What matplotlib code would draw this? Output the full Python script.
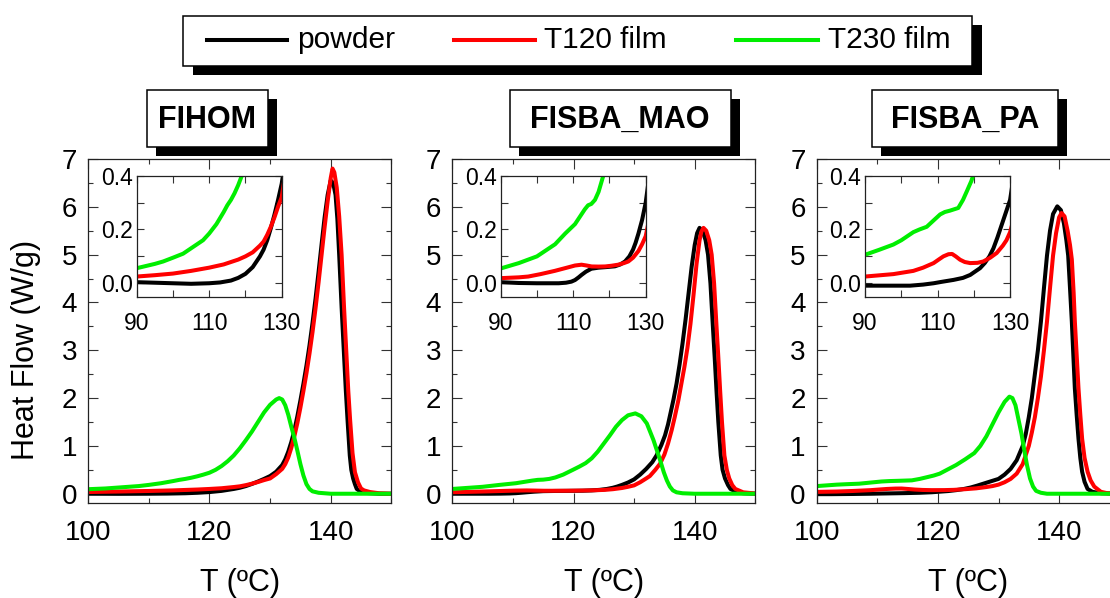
import matplotlib
matplotlib.use("Agg")
import matplotlib.pyplot as plt
from matplotlib.patches import Rectangle
from matplotlib.lines import Line2D
from matplotlib.ticker import MultipleLocator

plt.rcParams['font.family'] = ['Liberation Sans', 'DejaVu Sans']

# ---------------- data ----------------
panel_titles = ["FIHOM", "FISBA_MAO", "FISBA_PA"]
series_names = ["powder", "T120 film", "T230 film"]
series_colors = ["#000000", "#ff0000", "#00ee00"]

# FIHOM
fihom_powder_T = [90, 95, 100, 105, 110, 113, 116, 118, 120, 122, 123, 124, 125, 126, 127, 128, 129, 130, 131, 132,
                  132.5, 133, 133.5, 134, 134.5, 135, 135.5, 136, 136.5, 137, 137.5, 138, 138.5, 139, 139.5, 140,
                  140.4, 140.8, 141.1, 141.4, 141.8, 142.2, 142.5, 142.8, 143.15, 143.4, 143.7, 144, 144.3, 145, 146,
                  148, 150]
fihom_powder = [0.004, 0.002, 0.0, -0.002, 0.0, 0.003, 0.01, 0.02, 0.035, 0.06, 0.08, 0.1, 0.125, 0.16, 0.205, 0.255,
                0.31, 0.37, 0.46, 0.6, 0.72, 0.88, 1.08, 1.32, 1.62, 1.95, 2.3, 2.68, 3.1, 3.57, 4.08, 4.64, 5.22,
                5.78, 6.25, 6.55, 6.5, 6.25, 5.75, 5.0, 3.9, 2.9, 2.15, 1.5, 0.8, 0.5, 0.32, 0.2, 0.1, 0.04, 0.015,
                0.0, 0.0]
fihom_t120_T = [90, 95, 100, 105, 110, 114, 118, 120, 122, 124, 125, 126, 127, 128, 129, 130, 131, 132, 132.5, 133,
                133.5, 134, 134.5, 135, 135.5, 136, 136.5, 137, 137.5, 138, 138.5, 139, 139.5, 140, 140.3, 140.6, 141,
                141.4, 141.8, 142.2, 142.6, 142.9, 143.2, 143.6, 144, 144.5, 145, 145.5, 146.5, 148, 150]
fihom_t120 = [0.025, 0.03, 0.036, 0.046, 0.058, 0.07, 0.088, 0.1, 0.115, 0.14, 0.155, 0.18, 0.21, 0.245, 0.285, 0.32,
              0.41, 0.52, 0.62, 0.76, 0.96, 1.2, 1.48, 1.8, 2.15, 2.52, 2.93, 3.38, 3.88, 4.42, 5.0, 5.58, 6.12, 6.6,
              6.8, 6.72, 6.4, 5.8, 5.0, 3.9, 2.9, 2.15, 1.55, 0.85, 0.45, 0.24, 0.11, 0.07, 0.035, 0.01, 0.0]
fihom_t230_T = [90, 95, 97.3, 100, 102.8, 105, 108.3, 110, 112, 114, 115, 116, 117, 118, 119, 120, 121, 122, 123, 124,
                125, 126, 127, 128, 129, 130, 131, 131.5, 132, 132.5, 133, 133.5, 134, 134.5, 135, 135.5, 136, 136.5,
                137, 138, 140, 145, 150]
fihom_t230 = [0.056, 0.072, 0.081, 0.095, 0.11, 0.13, 0.16, 0.185, 0.22, 0.265, 0.29, 0.31, 0.335, 0.365, 0.40, 0.44,
              0.5, 0.58, 0.68, 0.8, 0.95, 1.12, 1.3, 1.5, 1.7, 1.86, 1.97, 2.0, 1.97, 1.85, 1.65, 1.4, 1.17, 0.9,
              0.62, 0.38, 0.2, 0.1, 0.05, 0.02, 0.0, 0.0, 0.0]

# FISBA_MAO
mao_powder_T = [90, 95, 100, 106, 108, 109.5, 110.5, 111.5, 112.3, 113.5, 115, 117, 119, 121.5, 123, 124.3, 125.5,
                126.5, 127.2, 128, 129, 130, 131, 132, 133, 133.7, 134.5, 135.1, 135.6, 136, 136.5, 137, 137.5, 138,
                138.5, 139, 139.5, 140, 140.4, 140.8, 141.3, 141.8, 142.2, 142.6, 143, 143.3, 143.6, 143.9, 144.3,
                144.6, 145, 145.5, 145.9, 147, 148, 150]
mao_powder = [0.004, 0.001, 0.0, 0.0, 0.002, 0.006, 0.012, 0.022, 0.031, 0.043, 0.054, 0.058, 0.06, 0.063, 0.07,
              0.081, 0.1, 0.125, 0.15, 0.185, 0.235, 0.3, 0.4, 0.52, 0.66, 0.8, 1.02, 1.22, 1.45, 1.68, 1.97, 2.3, 2.7,
              3.15, 3.65, 4.2, 4.75, 5.2, 5.45, 5.56, 5.5, 5.3, 5.0, 4.4, 3.5, 2.85, 2.15, 1.5, 0.8, 0.5, 0.32, 0.18,
              0.1, 0.03, 0.01, 0.0]
mao_t120_T = [90, 95, 97.6, 101, 104.9, 108, 110.5, 112.3, 113.7, 115.1, 117, 118.8, 120.5, 122.4, 124, 125.2, 126.5,
              128, 129, 130, 131, 132, 132.6, 133.5, 134.3, 135, 135.6, 136.2, 136.7, 137.3, 137.8, 138.3, 138.8,
              139.3, 139.8, 140.3, 140.8, 141.1, 141.45, 141.9, 142.4, 142.8, 143.2, 143.6, 143.9, 144.2, 144.5,
              144.9, 145.3, 145.7, 146.2, 146.7, 148, 150]
mao_t120 = [0.019, 0.022, 0.025, 0.034, 0.046, 0.057, 0.066, 0.069, 0.066, 0.0625, 0.062, 0.0625, 0.065, 0.069,
            0.075, 0.081, 0.095, 0.12, 0.145, 0.175, 0.24, 0.32, 0.37, 0.5, 0.63, 0.82, 1.05, 1.33, 1.6, 1.95, 2.3,
            2.65, 3.05, 3.55, 4.15, 4.8, 5.3, 5.48, 5.56, 5.5, 5.3, 5.0, 4.4, 3.5, 2.85, 2.15, 1.5, 0.8, 0.5, 0.32,
            0.18, 0.1, 0.03, 0.005]
mao_t230_T = [90, 95, 97.6, 100, 105, 107.8, 110.5, 113.2, 114.1, 115, 116, 117, 118.3, 119.9, 121, 122, 123, 124,
              125, 126, 127, 128, 129, 130.2, 131.2, 132.1, 133.2, 134.3, 134.9, 135.4, 135.9, 136.4, 137, 138, 140,
              150]
mao_t230 = [0.055, 0.075, 0.088, 0.10, 0.145, 0.185, 0.22, 0.275, 0.29, 0.295, 0.31, 0.34, 0.40, 0.5, 0.57, 0.64,
            0.74, 0.88, 1.05, 1.22, 1.4, 1.54, 1.64, 1.68, 1.62, 1.47, 1.12, 0.70, 0.45, 0.28, 0.15, 0.07, 0.03,
            0.01, 0.0, 0.0]

# FISBA_PA
pa_powder_T = [90, 95, 102.4, 106, 108.9, 111, 114.4, 117, 119, 120.5, 121.7, 123, 124.3, 125.4, 126.5, 127.5, 128.5,
               130, 131, 132, 133, 134, 134.5, 135, 135.5, 136, 136.5, 137, 137.5, 138, 138.5, 139, 139.7, 140.3,
               140.8, 141.2, 141.5, 141.8, 142.1, 142.35, 142.6, 142.9, 143.2, 143.5, 143.8, 144.2, 144.7, 145.5,
               147, 150]
pa_powder = [-0.009, -0.009, -0.009, -0.005, 0.0, 0.005, 0.0125, 0.02, 0.031, 0.045, 0.056, 0.075, 0.1, 0.13, 0.17,
             0.21, 0.25, 0.31, 0.4, 0.52, 0.7, 1.0, 1.25, 1.6, 2.0, 2.5, 3.0, 3.6, 4.3, 4.98, 5.5, 5.85, 6.01, 5.93,
             5.65, 5.3, 4.98, 4.3, 3.6, 2.9, 2.2, 1.65, 1.15, 0.75, 0.46, 0.25, 0.1, 0.04, 0.01, 0.0]
pa_t120_T = [90, 97.8, 103.3, 106, 108.9, 110.5, 111.6, 113, 114, 115, 116.2, 117.5, 119, 121, 122.6, 124.5, 126.3,
             128, 129, 130, 131, 132, 133, 134, 135, 135.5, 136, 136.5, 137, 137.5, 138, 138.5, 139, 139.5, 140,
             140.4, 140.9, 141.4, 141.8, 142.1, 142.4, 142.6, 142.9, 143.2, 143.5, 143.8, 144.2, 144.7, 145.2,
             145.8, 146.9, 148, 150]
pa_t120 = [0.025, 0.034, 0.046, 0.058, 0.075, 0.09, 0.1, 0.108, 0.109, 0.1, 0.0875, 0.079, 0.075, 0.076, 0.081,
           0.095, 0.1125, 0.14, 0.16, 0.19, 0.24, 0.31, 0.42, 0.62, 1.0, 1.28, 1.6, 2.0, 2.45, 3.0, 3.6, 4.3, 4.98,
           5.45, 5.78, 5.87, 5.8, 5.5, 5.2, 4.9, 4.2, 3.6, 2.9, 2.2, 1.65, 1.15, 0.75, 0.46, 0.28, 0.15, 0.04, 0.01,
           0.0]
pa_t230_T = [90, 94, 97.8, 100, 103.3, 105, 107, 109, 110.7, 112, 113.4, 115.7, 117, 118, 119.3, 120.3, 121.5, 123,
             124.5, 126, 127, 128, 129, 130, 131, 131.8, 132.3, 132.8, 133.3, 133.8, 134.2, 134.7, 135.2, 135.7,
             136.2, 137, 138, 150]
pa_t230 = [0.106, 0.125, 0.144, 0.16, 0.19, 0.2, 0.21, 0.235, 0.256, 0.265, 0.27, 0.28, 0.31, 0.34, 0.38, 0.42, 0.5,
           0.6, 0.72, 0.85, 1.0, 1.2, 1.45, 1.7, 1.92, 2.03, 2.0, 1.85, 1.55, 1.25, 0.95, 0.6, 0.32, 0.15, 0.06,
           0.02, 0.0, 0.0]

panels = [
    [(fihom_powder_T, fihom_powder), (fihom_t120_T, fihom_t120), (fihom_t230_T, fihom_t230)],
    [(mao_powder_T, mao_powder), (mao_t120_T, mao_t120), (mao_t230_T, mao_t230)],
    [(pa_powder_T, pa_powder), (pa_t120_T, pa_t120), (pa_t230_T, pa_t230)],
]

main_xticks = [100, 120, 140]
main_yticks = [0, 1, 2, 3, 4, 5, 6, 7]
inset_xticks = [90, 110, 130]
inset_yticks = [0.0, 0.2, 0.4]
inset_yticklabels = ["0.0", "0.2", "0.4"]

# ---------------- layout ----------------
W, H = 1110, 598
fig = plt.figure(figsize=(W / 100, H / 100), dpi=100)


def fx(x):
    return x / W


def fy(y):
    return 1 - y / H


def frect(x0, y0, x1, y1):
    return [fx(x0), fy(y1), (x1 - x0) / W, (y1 - y0) / H]


panel_left = [88.3, 452.3, 816.7]
panel_w = 303.0
ax_top, ax_bot = 159.0, 503.3
inset_dx, inset_w = 48.4, 145.0
inset_top, inset_bot = 175.7, 296.7

title_boxes = [(146.5, 268.0), (509.6, 730.8), (871.7, 1058.0)]
box_top, box_bot = 90.0, 147.3
shadow_off = 9.0

lw = 2.9
for i in range(3):
    L = panel_left[i]
    ax = fig.add_axes(frect(L, ax_top, L + panel_w, ax_bot))
    for (T, v), c in zip(panels[i], series_colors):
        ax.plot(T, v, color=c, lw=lw, solid_joinstyle='round')
    ax.set_xlim(100, 150)
    ax.set_ylim(-0.2, 7.0)
    ax.set_xticks(main_xticks)
    ax.set_yticks(main_yticks)
    ax.xaxis.set_minor_locator(MultipleLocator(10))
    ax.yaxis.set_minor_locator(MultipleLocator(0.5))
    ax.tick_params(which='both', direction='in', top=True, right=True, width=0.8, color='#333333')
    ax.tick_params(which='major', length=7, labelsize=20)
    ax.tick_params(which='minor', length=3.5)
    ax.tick_params(axis='x', which='major', pad=12)
    ax.tick_params(axis='y', which='major', pad=8)
    for s in ax.spines.values():
        s.set_linewidth(0.9)
        s.set_color('#222222')

    # inset
    axi = fig.add_axes(frect(L + inset_dx, inset_top, L + inset_dx + inset_w, inset_bot))
    for (T, v), c in zip(panels[i], series_colors):
        axi.plot(T, v, color=c, lw=lw, solid_joinstyle='round')
    axi.set_xlim(90, 130)
    axi.set_ylim(-0.05, 0.4)
    axi.set_xticks(inset_xticks)
    axi.set_yticks(inset_yticks)
    axi.set_yticklabels(inset_yticklabels)
    axi.xaxis.set_minor_locator(MultipleLocator(10))
    axi.yaxis.set_minor_locator(MultipleLocator(0.1))
    axi.tick_params(which='both', direction='in', top=True, right=True, width=0.8, length=5, color='#333333')
    axi.tick_params(which='major', labelsize=16.5)
    axi.tick_params(axis='x', which='major', pad=11)
    axi.tick_params(axis='y', which='major', pad=3)
    for s in axi.spines.values():
        s.set_linewidth(0.9)
        s.set_color('#222222')

    # x label
    fig.text(fx(L + panel_w / 2), fy(582.5), "T (\u00baC)", ha='center', va='center', fontsize=22)

    # title box with shadow
    bx0, bx1 = title_boxes[i]
    fig.add_artist(Rectangle((fx(bx0 + shadow_off), fy(box_bot + shadow_off)), (bx1 - bx0) / W,
                             (box_bot - box_top) / H, transform=fig.transFigure, facecolor='black',
                             edgecolor='black', lw=0))
    fig.add_artist(Rectangle((fx(bx0), fy(box_bot)), (bx1 - bx0) / W, (box_bot - box_top) / H,
                             transform=fig.transFigure, facecolor='white', edgecolor='black', lw=1.1))
    fig.text(fx((bx0 + bx1) / 2), fy((box_top + box_bot) / 2 + 1), panel_titles[i], ha='center', va='center',
             fontsize=22, fontweight='bold')

# y label
fig.text(fx(25.8), fy(350), "Heat Flow (W/g)", rotation=90, ha='center', va='center', fontsize=22)

# legend with shadow
lx0, lx1, ly0, ly1 = 183.0, 972.0, 15.7, 65.7
fig.add_artist(Rectangle((fx(lx0 + 10), fy(ly1 + 9)), (lx1 - lx0) / W, (ly1 - ly0) / H,
                         transform=fig.transFigure, facecolor='black', edgecolor='black', lw=0))
fig.add_artist(Rectangle((fx(lx0), fy(ly1)), (lx1 - lx0) / W, (ly1 - ly0) / H,
                         transform=fig.transFigure, facecolor='white', edgecolor='black', lw=1.1))
leg_line_x = [(206.7, 287.4), (454.4, 534.6), (736.0, 817.5)]
leg_text_x = [297.0, 543.8, 828.3]
leg_y = 39.5
for (a, b), tx, name, c in zip(leg_line_x, leg_text_x, series_names, series_colors):
    fig.add_artist(Line2D([fx(a), fx(b)], [fy(leg_y), fy(leg_y)], transform=fig.transFigure, color=c, lw=lw))
    fig.text(fx(tx), fy(leg_y + 1), name, ha='left', va='center', fontsize=21.5)

fig.savefig("out.png", dpi=100)
